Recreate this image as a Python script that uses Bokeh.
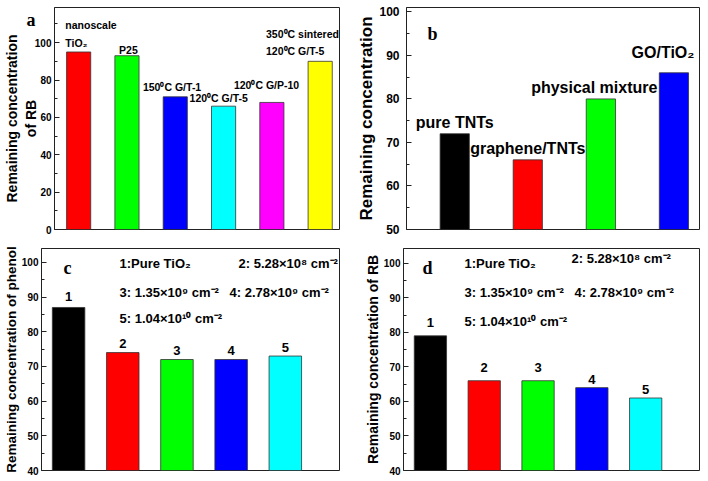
from bokeh.plotting import figure
from bokeh.models import FixedTicker, Label, ColumnDataSource, LinearAxis
from bokeh.layouts import column, row
from bokeh.embed import file_html
from bokeh.resources import INLINE
from bokeh.core.properties import value

FONT = "Liberation Sans"
SERIF = "Liberation Serif"

# ---------------- data ----------------
# panel a
a_positions = [1, 2, 3, 4, 5, 6]
a_values = [95, 93, 71, 66, 68, 90]
a_colors = ["#FF0000", "#00FF00", "#0000FF", "#00FFFF", "#FF00FF", "#FFFF00"]
a_ticks = [0, 20, 40, 60, 80, 100]
a_minor = [10, 30, 50, 70, 90, 110]
# bar annotations of panel a: text lines and the bar each belongs to
a_notes = ["nanoscale", "TiO\u2082", "P25", "150\u2070C G/T-1", "120\u2070C G/T-5",
           "120\u2070C G/P-10", "350\u2070C sintered", "120\u2070C G/T-5"]
a_note_bar = [0, 0, 1, 2, 3, 4, 5, 5]

# panel b
b_positions = [1, 2, 3, 4]
b_names = ["pure TNTs", "graphene/TNTs", "physical mixture", "GO/TiO\u2082"]
b_values = [72, 66, 80, 86]
b_colors = ["#000000", "#FF0000", "#00FF00", "#0000FF"]
b_ticks = [50, 60, 70, 80, 90, 100]
b_minor = [55, 65, 75, 85, 95]

# panels c and d
cd_positions = [1, 2, 3, 4, 5]
cd_names = ["1", "2", "3", "4", "5"]
c_values = [87, 74, 72, 72, 73]
d_values = [79, 66, 66, 64, 61]
cd_colors = ["#000000", "#FF0000", "#00FF00", "#0000FF", "#00FFFF"]
cd_ticks = [40, 50, 60, 70, 80, 90, 100]
cd_minor = [45, 55, 65, 75, 85, 95]
cd_legend = ["1:Pure TiO\u2082", "2: 5.28\u00d710\u2078 cm\u207b\u00b2", "3: 1.35\u00d710\u2079 cm\u207b\u00b2",
             "4: 2.78\u00d710\u2079 cm\u207b\u00b2", "5: 1.04\u00d710\u00b9\u2070 cm\u207b\u00b2"]


def make_fig(w, h, bl, br, bt, bb, xr, yr, ticks, minor, tick_size):
    p = figure(width=w, height=h, x_range=xr, y_range=yr, output_backend="svg",
               toolbar_location=None, min_border_left=bl, min_border_right=br,
               min_border_top=bt, min_border_bottom=bb)
    p.xaxis.visible = False
    p.grid.visible = False
    p.outline_line_color = "#222222"
    p.outline_line_width = 1
    p.outline_line_alpha = 1
    p.background_fill_color = "white"
    p.border_fill_color = "white"
    ax = p.yaxis[0]
    ax.ticker = FixedTicker(ticks=ticks, minor_ticks=minor)
    ax.major_tick_in = 5
    ax.major_tick_out = 0
    ax.minor_tick_in = 3
    ax.minor_tick_out = 0
    ax.axis_line_color = "#222222"
    ax.major_tick_line_color = "#222222"
    ax.minor_tick_line_color = "#222222"
    ax.major_label_text_font = FONT
    ax.major_label_text_font_style = "bold"
    ax.major_label_text_font_size = tick_size
    ax.major_label_text_color = "black"
    ax.major_label_standoff = 3
    ax.axis_label_text_font = FONT
    ax.axis_label_text_font_style = "bold"
    ax.axis_label_text_color = "black"
    return p


def bars(p, xs, vals, colors, width):
    src = ColumnDataSource(dict(x=xs, top=vals, color=colors))
    p.vbar(x="x", top="top", bottom=0, width=width, source=src,
           fill_color="color", line_color="#333333", line_width=0.8)


def label(p, x, y, text, size, align="left", baseline="middle", font=FONT):
    p.add_layout(Label(x=x, y=y, x_units="screen", y_units="screen", text=text,
                       text_font=font, text_font_style="bold", text_font_size=size,
                       text_align=align, text_baseline=baseline, text_color="black"))


# ---------------- panel a ----------------
pa = make_fig(354, 240, 49, 15, 7, 9, (0.5, 6.4), (0, 118.8), a_ticks, a_minor, "10px")
pa.yaxis[0].axis_label = "of RB"
pa.yaxis[0].axis_label_text_font_size = "14px"
pa.yaxis[0].axis_label_standoff = -7
ax2 = LinearAxis(ticker=FixedTicker(ticks=[]), axis_label="Remaining concentration",
                 axis_line_color=None, major_tick_line_color=None, minor_tick_line_color=None,
                 major_label_standoff=0, axis_label_standoff=0,
                 axis_label_text_font=FONT, axis_label_text_font_style="bold",
                 axis_label_text_font_size="14px", axis_label_text_color="black")
pa.add_layout(ax2, "left")
ax3 = LinearAxis(ticker=FixedTicker(ticks=[112]), major_label_overrides={112: "a"},
                 axis_line_color=None, major_tick_line_color=None, minor_tick_line_color=None,
                 major_tick_in=0, major_tick_out=0, major_label_standoff=-35,
                 major_label_text_font=SERIF, major_label_text_font_style="bold",
                 major_label_text_font_size="18px", major_label_text_color="black")
pa.add_layout(ax3, "left")
bars(pa, a_positions, a_values, a_colors, 0.5)
note_dx = [-0.276, -0.276, 0.03, -0.066, -0.10, -0.11, -1.121, -1.121]
note_dy = [-27, -9, -6, -10, -8, -17, -27, -10]
note_left = [True, True, False, False, False, False, True, True]
for left in (True, False):
    idx = [i for i in range(len(a_notes)) if note_left[i] == left]
    pa.text(x=[a_positions[a_note_bar[i]] + note_dx[i] for i in idx],
            y=[a_values[a_note_bar[i]] for i in idx],
            text=[a_notes[i] for i in idx],
            y_offset=[note_dy[i] for i in idx],
            text_font=value(FONT), text_font_style="bold", text_font_size="10.5px",
            text_align="left" if left else "center", text_baseline="middle", text_color="black")

# ---------------- panel b ----------------
pb = make_fig(354, 240, 47, 9, 7, 11, (0.34, 4.35), (50, 101.0), b_ticks, b_minor, "12px")
pb.yaxis.major_label_standoff = 7
pb.yaxis.axis_label = "Remaining concentration"
pb.yaxis.axis_label_text_font_size = "17px"
pb.yaxis.axis_label_standoff = 0
bars(pb, b_positions, b_values, b_colors, 0.4)
b_dx = [0, 0, -0.09, -0.15]
b_dy = [-11, -11, -11, -20]
pb.text(x=[b_positions[i] + b_dx[i] for i in range(4)], y=b_values, text=b_names,
        y_offset=b_dy, text_font=value(FONT), text_font_style="bold", text_font_size="16px",
        text_align="center", text_baseline="middle", text_color="black")
label(pb, 21, 196, "b", "18px", baseline="alphabetic", font=SERIF)

# ---------------- panel c ----------------
pc = make_fig(354, 240, 40, 15, 8, 10, (0.5, 6.0), (40, 104.0), cd_ticks, cd_minor, "10px")
pc.yaxis.axis_label = "Remaining concentration of phenol"
pc.yaxis.axis_label_text_font_size = "13.5px"
pc.yaxis.axis_label_standoff = 0
bars(pc, cd_positions, c_values, cd_colors, 0.6)
c_dy = [-11, -9, -9, -9, -9]
pc.text(x=cd_positions, y=c_values, text=cd_names, y_offset=c_dy,
        text_font=value(FONT), text_font_style="bold", text_font_size="13px",
        text_align="center", text_baseline="middle", text_color="black")
label(pc, 22, 203, "c", "18px", baseline="alphabetic", font=SERIF)
c_leg_x = [78, 197, 78, 188, 78]
c_leg_y = [207, 207, 178, 178, 152]
for t, x, y in zip(cd_legend, c_leg_x, c_leg_y):
    label(pc, x, y, t, "13px")

# ---------------- panel d ----------------
pd = make_fig(354, 240, 49, 9, 7, 10, (0.5, 6.0), (40, 104.3), cd_ticks, cd_minor, "10px")
pd.yaxis.axis_label = "Remaining concentration of RB"
pd.yaxis.axis_label_text_font_size = "14px"
pd.yaxis.axis_label_standoff = 0
bars(pd, cd_positions, d_values, cd_colors, 0.6)
d_dy = [-13, -13, -13, -8, -8]
pd.text(x=cd_positions, y=d_values, text=cd_names, y_offset=d_dy,
        text_font=value(FONT), text_font_style="bold", text_font_size="13px",
        text_align="center", text_baseline="middle", text_color="black")
label(pd, 19, 203, "d", "18px", baseline="alphabetic", font=SERIF)
d_leg_x = [61, 168, 61, 171, 61]
d_leg_y = [207, 212, 178, 178, 149]
for t, x, y in zip(cd_legend, d_leg_x, d_leg_y):
    label(pd, x, y, t, "13px")

layout = column(row(pa, pb), row(pc, pd))
open("out.html", "w").write(file_html(layout, INLINE))
